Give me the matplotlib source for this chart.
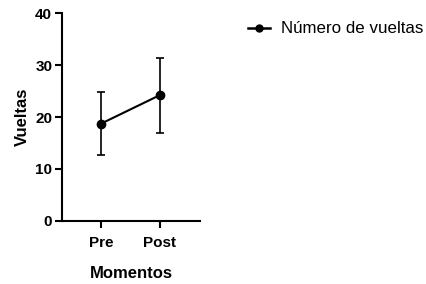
import numpy as np
import matplotlib.pyplot as plt
from matplotlib.lines import Line2D

plt.rcParams['font.family'] = ['Liberation Sans', 'DejaVu Sans']

# Data
momentos = ["Pre", "Post"]
media = [18.7, 24.2]
err_inf = [6.0, 7.2]
err_sup = [6.1, 7.2]

fig = plt.figure(figsize=(4.27, 2.84), dpi=100)
ax = fig.add_axes([0.145, 0.222, 0.323, 0.732])

x = np.arange(len(momentos))
ax.errorbar(x, media, yerr=[err_inf, err_sup], color="black", lw=1.5,
            marker="o", markersize=6, capsize=3, elinewidth=1.2, capthick=1.2)

ax.set_xlim(-0.66, 1.68)
ax.set_ylim(0, 40)
ax.set_yticks([0, 10, 20, 30, 40])
ax.set_xticks(x)
ax.set_xticklabels(momentos)
for lab in ax.get_xticklabels() + ax.get_yticklabels():
    lab.set_fontweight("bold")
    lab.set_fontsize(11)

ax.spines["top"].set_visible(False)
ax.spines["right"].set_visible(False)
ax.spines["left"].set_linewidth(1.5)
ax.spines["bottom"].set_linewidth(1.5)
ax.tick_params(width=1.5, length=5)
ax.tick_params(axis="x", pad=6)
ax.tick_params(axis="y", pad=2)

ax.set_xlabel("Momentos", fontweight="bold", fontsize=12, labelpad=11)
ax.set_ylabel("Vueltas", fontweight="bold", fontsize=12, labelpad=4)

handle = Line2D([], [], color="black", lw=1.8, marker="o", markersize=5)
fig.legend([handle], ["Número de vueltas"], loc="upper left",
           bbox_to_anchor=(0.545, 0.978), frameon=False,
           fontsize=12.2, handlelength=1.3, handletextpad=0.65)

fig.savefig("out.png", dpi=100)
